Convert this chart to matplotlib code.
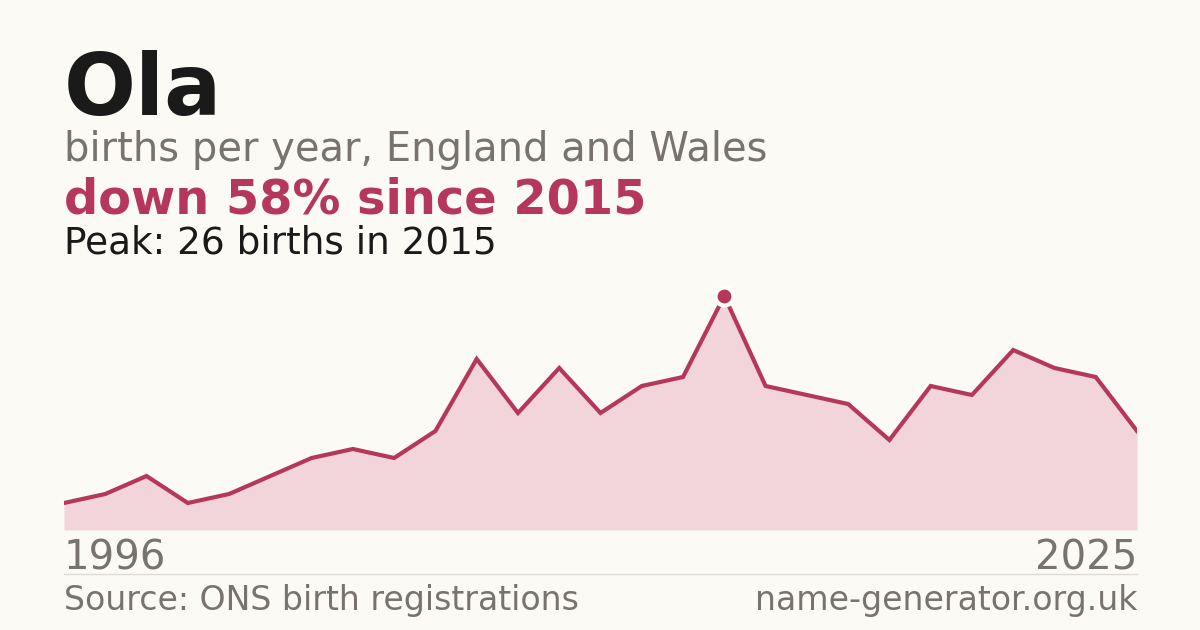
import matplotlib
matplotlib.use("Agg")
import matplotlib.pyplot as plt
import numpy as np

# births per year for "Ola" (ONS); a few early years missing
years = [1996, 1997, 1998, 2000, 2001, 2002, 2004, 2005, 2006, 2007, 2008,
         2010, 2011, 2012, 2013, 2014, 2015, 2016, 2017, 2018, 2019, 2020,
         2021, 2022, 2023, 2024, 2025]
births = [3, 4, 6, 3, 4, 6, 8, 9, 8, 11, 19, 13, 18, 13, 16, 17, 26,
          16, 15, 14, 10, 16, 15, 20, 18, 17, 11]

name = "Ola"
subtitle = "births per year, England and Wales"
change_text = "down 58% since 2015"
peak_text = "Peak: 26 births in 2015"
source = "Source: ONS birth registrations"
site = "name-generator.org.uk"

bg = "#fbfaf5"
red = "#b5385a"
fill = "#f2d5da"
grey = "#78736d"
dark = "#1a1a1a"

W, H = 1200, 630
fig = plt.figure(figsize=(12, 6.3), dpi=100, facecolor=bg)

# axes spans pixel x 64..1137, y 530 (zero) up to 278
ax = fig.add_axes([64 / W, (H - 530) / H, (1137 - 64) / W, (530 - 278) / H])
ax.set_facecolor(bg)
x = np.arange(len(births))
ax.fill_between(x, births, 0, color=fill, lw=0)
ax.plot(x, births, color=red, lw=3, solid_joinstyle="miter")
ipk = int(np.argmax(births))
ax.plot(x[ipk], births[ipk], "o", ms=13, color=red, mec="white", mew=3, zorder=5)
ax.set_xlim(0, len(births) - 1)
ax.set_ylim(0, 28)
ax.axis("off")

def px(xp, yp):
    return xp / W, 1 - yp / H

fig.text(*px(64, 115), name, fontsize=61, fontweight="bold", color=dark, va="baseline")
fig.text(*px(64, 161), subtitle, fontsize=28.8, color=grey, va="baseline")
fig.text(*px(64, 214), change_text, fontsize=34.5, fontweight="bold", color=red, va="baseline")
fig.text(*px(64, 254), peak_text, fontsize=26.9, color=dark, va="baseline")

fig.text(*px(64, 569), str(years[0]), fontsize=28.9, color=grey, va="baseline")
fig.text(*px(1137, 569), str(years[-1]), fontsize=28.9, color=grey, va="baseline", ha="right")
fig.add_artist(plt.Line2D([64 / W, 1137 / W], [1 - 574 / H] * 2, color="#dedbd4", lw=1))
fig.text(*px(64, 610), source, fontsize=23.9, color=grey, va="baseline")
fig.text(*px(1137, 610), site, fontsize=23.9, color=grey, va="baseline", ha="right")

fig.savefig("out.png", dpi=100, facecolor=bg)
